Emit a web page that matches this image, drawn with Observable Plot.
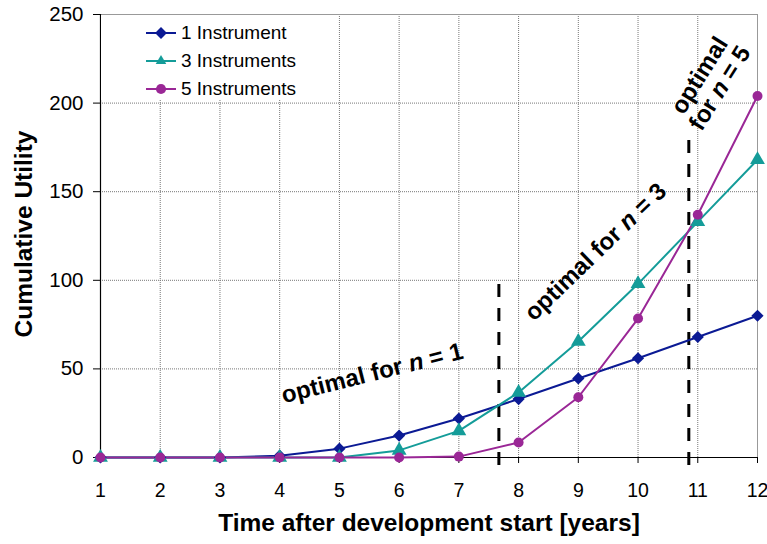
<!DOCTYPE html>
<html>
<head>
<meta charset="utf-8">
<script src="https://cdn.jsdelivr.net/npm/d3@7"></script>
<script src="https://cdn.jsdelivr.net/npm/@observablehq/plot@0.6"></script>
<style>
  html, body { margin: 0; padding: 0; background: #fff; }
  #wrap { position: relative; width: 767px; height: 544px; font-family: "Liberation Sans", Arial, sans-serif; }
  #legend { position: absolute; left: 101px; top: 15px; width: 230px; height: 85px; background: #fff; }
  .item { position: absolute; left: 44px; height: 22px; display: flex; align-items: center; font-size: 19px; color: #000; }
  .item svg { margin-right: 4px; }
</style>
</head>
<body>
<div id="wrap"><div id="legend"></div></div>
<script>
const years = [1, 2, 3, 4, 5, 6, 7, 8, 9, 10, 11, 12];
const one   = [0, 0, 0, 1, 5, 12.4, 22, 33, 44.6, 56, 68, 80];
const three = [0, 0, 0, 0, 0, 4, 15, 36.7, 65.5, 98, 133, 168];
const five  = [0, 0, 0, 0, 0, 0, 0.5, 8.5, 34, 78.4, 137, 204];
const seriesNames = ["1 Instrument", "3 Instruments", "5 Instruments"];
const seriesColors = ["#0b1a94", "#149c99", "#9a2796"];
const seriesSymbols = ["diamond2", "triangle", "circle"];
const yTicks = [0, 50, 100, 150, 200, 250];
const boundaries = [{x: 7.67, top: 100}, {x: 10.85, top: 180}];
const notes = [
  {x: 5.55, y: 47.5, label: "optimal for n = 1", angle: -14},
  {x: 9.29, y: 116, label: "optimal for n = 3", angle: -44},
  {x: 11.2, y: 212, label: "optimal\nfor n = 5", angle: -58}
];

const allSeries = [one, three, five];
const rows = allSeries.map((vals, i) => years.map((yr, j) => ({year: yr, value: vals[j], s: i})));

const font = "Liberation Sans, Arial, sans-serif";
const marks = [
  Plot.gridX(years, {stroke: "#777", strokeOpacity: 1, strokeDasharray: "1,1"}),
  Plot.gridY(yTicks, {stroke: "#777", strokeOpacity: 1, strokeDasharray: "1,1"}),
  Plot.frame({stroke: "#999"}),
  Plot.axisY(yTicks, {tickSize: 7, tickPadding: 10, fontSize: 20.5, label: null}),
  Plot.axisX(years, {tickSize: 6, tickPadding: 20, fontSize: 19.5, label: null}),
  Plot.ruleY([0], {stroke: "#000", strokeWidth: 1.2}),
  Plot.ruleX([1], {stroke: "#000", strokeWidth: 1.2}),
  Plot.ruleX(boundaries, {x: "x", y1: () => -4.5, y2: "top", stroke: "#000", strokeWidth: 3, strokeDasharray: "13,11"})
];
rows.forEach((data, i) => {
  marks.push(Plot.line(data, {x: "year", y: "value", stroke: seriesColors[i], strokeWidth: 2}));
});
rows.forEach((data, i) => {
  marks.push(Plot.dot(data, {x: "year", y: "value", fill: seriesColors[i], stroke: "none",
    symbol: () => seriesSymbols[i], r: i === 2 ? 5 : 5.5}));
});
notes.forEach(n => {
  marks.push(Plot.text([n], {x: "x", y: "y", text: "label", rotate: n.angle, fontSize: 24, fontWeight: "bold",
    fill: "#000", lineHeight: 1.0, textAnchor: "middle"}));
});
marks.push(Plot.text(["Time after development start [years]"], {frameAnchor: "bottom", dy: 66, textAnchor: "middle", lineAnchor: "middle", fontSize: 24.5, fontWeight: "bold", fill: "#000"}));
marks.push(Plot.text(["Cumulative Utility"], {frameAnchor: "left", dx: -76, dy: -2, rotate: -90, textAnchor: "middle", lineAnchor: "middle", fontSize: 24.5, fontWeight: "bold", fill: "#000"}));

const svg = Plot.plot({
  width: 767, height: 544,
  marginLeft: 100, marginRight: 10, marginTop: 14, marginBottom: 87,
  x: {domain: [1, 12]},
  y: {domain: [0, 250]},
  symbol: {type: "identity"},
  style: {fontFamily: font, color: "#000", background: "#fff", overflow: "visible"},
  marks
});

// italic "n"
const NS = "http://www.w3.org/2000/svg";
d3.select(svg).selectAll("text, tspan").each(function () {
  if (this.childElementCount) return;
  const t = this.textContent;
  const m = t.match(/^(.*for )n( = .*)$/);
  if (!m) return;
  this.textContent = "";
  const a = document.createElementNS(NS, "tspan"); a.textContent = m[1];
  const b = document.createElementNS(NS, "tspan"); b.textContent = "n"; b.setAttribute("font-style", "italic");
  const c = document.createElementNS(NS, "tspan"); c.textContent = m[2];
  this.append(a, b, c);
});

const wrap = document.getElementById("wrap");
wrap.insertBefore(svg, wrap.firstChild);

// legend
const legend = document.getElementById("legend");
const symPaths = {diamond2: d3.symbol(d3.symbolDiamond2, 90)(), triangle: d3.symbol(d3.symbolTriangle2, 80)(), circle: d3.symbol(d3.symbolCircle, 80)()};
seriesNames.forEach((name, i) => {
  const div = document.createElement("div");
  div.className = "item";
  div.style.top = (7 + i * 28) + "px";
  div.innerHTML = `<svg width="32" height="20"><line x1="1" x2="31" y1="10" y2="10" stroke="${seriesColors[i]}" stroke-width="2"/><path transform="translate(16,10)" d="${symPaths[seriesSymbols[i]]}" fill="${seriesColors[i]}"/></svg><span>${name}</span>`;
  legend.appendChild(div);
});
</script>
</body>
</html>
